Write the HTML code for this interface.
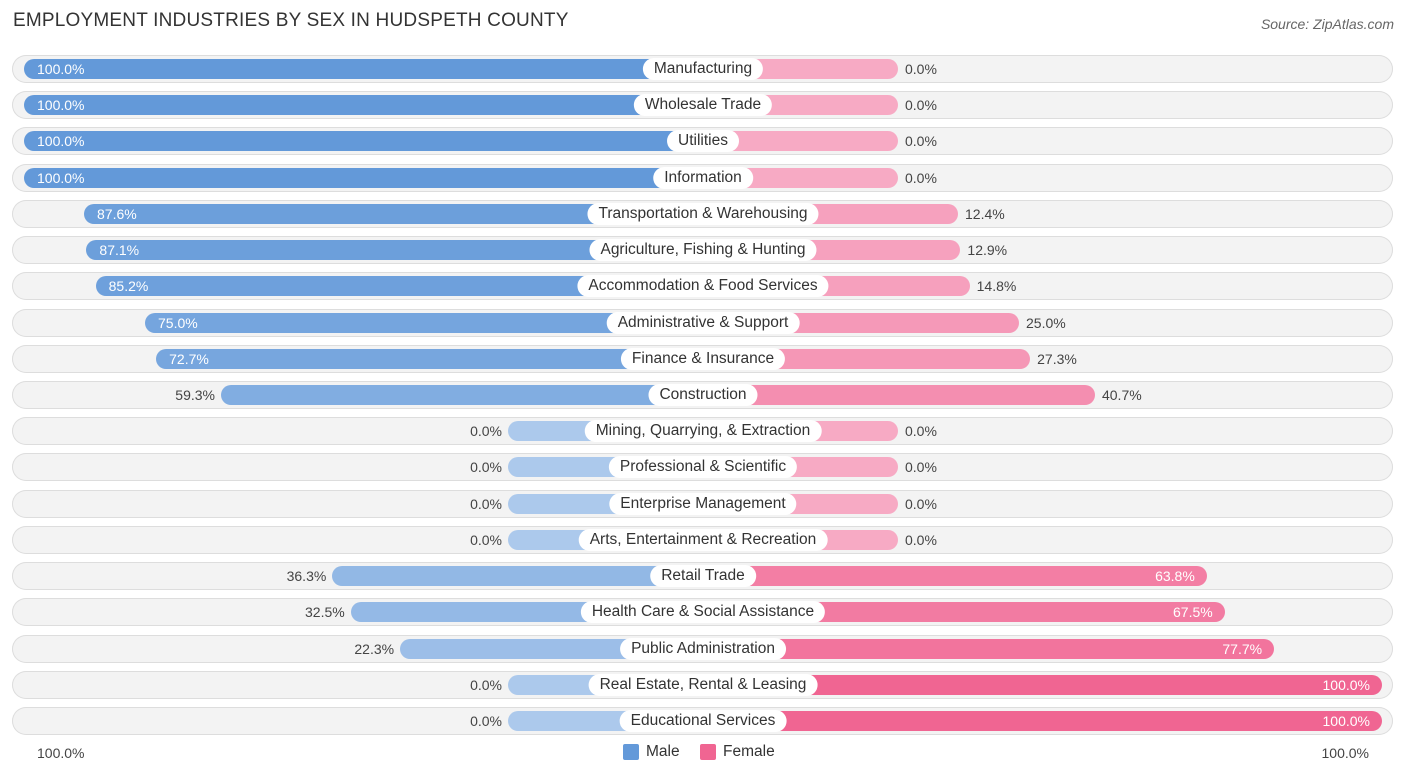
<!DOCTYPE html>
<html><head><meta charset="utf-8"><style>
body{margin:0;width:1406px;height:776px;background:#fff;font-family:"Liberation Sans",sans-serif;overflow:hidden;position:relative}
.t{position:absolute;left:13px;top:10px;font-size:19px;color:#333;letter-spacing:0.2px}
.s{position:absolute;right:12px;top:16px;font-size:14px;color:#666;font-style:italic}
.row{position:absolute;left:12px;width:1381px;height:28px;border-radius:14px;background:#f3f3f3;box-shadow:inset 0 0 0 1px #ddd}
.bar{position:absolute;height:20px;border-radius:10px}
.lab{position:absolute;height:22px;line-height:22px;border-radius:11px;background:#fff;font-size:15.5px;color:#333;padding:0 11px;transform:translateX(-50%);white-space:nowrap}
.v{position:absolute;font-size:14px;line-height:20px;color:#444}
.vi{color:#fff}
.leg{position:absolute;top:743px;font-size:15.5px;color:#333}
.sw{position:absolute;top:744px;width:16px;height:16px;border-radius:2px}
</style></head><body>
<div class="t">EMPLOYMENT INDUSTRIES BY SEX IN HUDSPETH COUNTY</div>
<div class="s">Source: ZipAtlas.com</div>
<div id="chart"></div>
<div class="v" style="left:37px;top:743px">100.0%</div>
<div class="v" style="right:37px;top:743px">100.0%</div>
<div class="sw" style="left:623px;background:#6399d9"></div>
<div class="leg" style="left:646px">Male</div>
<div class="sw" style="left:700px;background:#f06592"></div>
<div class="leg" style="left:723px">Female</div>
<script>
const categories=["Manufacturing","Wholesale Trade","Utilities","Information","Transportation & Warehousing","Agriculture, Fishing & Hunting","Accommodation & Food Services","Administrative & Support","Finance & Insurance","Construction","Mining, Quarrying, & Extraction","Professional & Scientific","Enterprise Management","Arts, Entertainment & Recreation","Retail Trade","Health Care & Social Assistance","Public Administration","Real Estate, Rental & Leasing","Educational Services"];
const maleValues=[100,100,100,100,87.6,87.1,85.2,75.0,72.7,59.3,0,0,0,0,36.3,32.5,22.3,0,0];
const femaleValues=[0,0,0,0,12.4,12.9,14.8,25.0,27.3,40.7,0,0,0,0,63.8,67.5,77.7,100,100];
const C=703,OFF=195,K=4.84,Y0=69,DY=36.22;
function mix(a,b,t){return 'rgb('+a.map((x,i)=>Math.round(b[i]+(x-b[i])*t)).join(',')+')';}
const mD=[99,153,217],mL=[172,201,236],fD=[240,101,146],fL=[247,170,196];
const ch=document.getElementById('chart');
function add(cls,style,txt,name){const e=document.createElement('div');e.className=cls;e.style.cssText=style;if(txt!=null)e.textContent=txt;


ch.appendChild(e);return e;}
categories.forEach((c,i)=>{
 const y=Y0+i*DY;
 add('row','top:'+(y-14)+'px','', 'row-bg');
 const m=maleValues[i],f=femaleValues[i];
 const ml=C-OFF-m*K, fr=C+OFF+f*K;
 add('bar','left:'+ml+'px;width:'+(C-ml)+'px;top:'+(y-10)+'px;background:'+mix(mD,mL,m/100),'', 'male-bar');
 add('bar','left:'+C+'px;width:'+(fr-C)+'px;top:'+(y-10)+'px;background:'+mix(fD,fL,f/100),'', 'female-bar');
 const mt=m.toFixed(1)+'%', ft=f.toFixed(1)+'%';
 if(m>65) add('v vi','left:'+(ml+13)+'px;top:'+(y-10)+'px',mt,'male-value');
 else add('v','right:'+(1406-ml+6)+'px;top:'+(y-10)+'px',mt,'male-value');
 if(f>60) add('v vi','right:'+(1406-fr+12)+'px;top:'+(y-10)+'px',ft,'female-value');
 else add('v','left:'+(fr+7)+'px;top:'+(y-10)+'px',ft,'female-value');
 add('lab','left:'+C+'px;top:'+(y-11)+'px',c,'category-label');
});
</script>
</body></html>
